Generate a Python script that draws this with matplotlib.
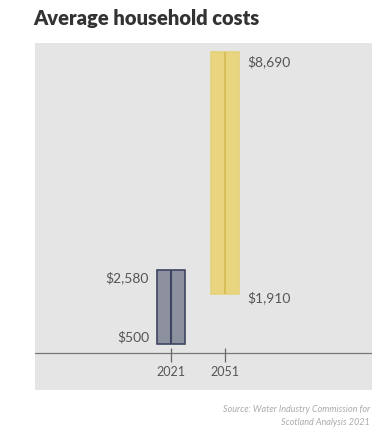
import matplotlib.pyplot as plt

# ==================== 数据 ====================
years = ["2021", "2051"]
low_values = [500, 1910]
high_values = [2580, 8690]
low_labels = ["$500", "$1,910"]
high_labels = ["$2,580", "$8,690"]

title = "Average household costs"
source = "Source: Water Industry Commission for\nScotland Analysis 2021"

# ==================== 样式 ====================
plt.rcParams["font.family"] = ["Lato", "DejaVu Sans"]
fill_colors = ["#8c909f", "#e9d57f"]
edge_colors = ["#3e4560", "#e6d27a"]
mid_colors = ["#3e4560", "#d8bf5c"]
panel_color = "#e5e5e5"
text_color = "#555555"

W, H = 379, 434
fig = plt.figure(figsize=(W / 100, H / 100), dpi=100)
fig.patch.set_facecolor("white")

# 面板（像素位置换算成图形坐标）
left, right, top, bottom = 35, 372, 43, 390
ax = fig.add_axes([left / W, 1 - bottom / H, (right - left) / W, (bottom - top) / H])
ax.set_facecolor(panel_color)
for s in ax.spines.values():
    s.set_visible(False)

x = [0, 1]
bar_w = 0.52
for i in range(len(years)):
    h = high_values[i] - low_values[i]
    ax.bar(x[i], h, bottom=low_values[i], width=bar_w, color=fill_colors[i],
           edgecolor=edge_colors[i], linewidth=1.2, zorder=3)
    ax.vlines(x[i], low_values[i], high_values[i], color=mid_colors[i], lw=1.5, zorder=4)

# 基线和刻度
base = 250
ax.axhline(base, color="#777777", lw=0.9, zorder=2)
for i in range(len(years)):
    ax.vlines(x[i], base - 250, base + 130, color="#666666", lw=0.9, zorder=2)
    ax.text(x[i], base - 370, years[i], ha="center", va="top", fontsize=9, color=text_color)

# 数值标签：2021 放左边，2051 放右边
ax.text(x[0] - bar_w / 2 - 0.15, high_values[0] - 220, high_labels[0], ha="right", va="center",
        fontsize=10, color=text_color)
ax.text(x[0] - bar_w / 2 - 0.15, low_values[0] + 200, low_labels[0], ha="right", va="center",
        fontsize=10, color=text_color)
ax.text(x[1] + bar_w / 2 + 0.15, high_values[1] - 280, high_labels[1], ha="left", va="center",
        fontsize=10, color=text_color)
ax.text(x[1] + bar_w / 2 + 0.15, low_values[1] - 100, low_labels[1], ha="left", va="center",
        fontsize=10, color=text_color)

ax.set_xlim(-2.52, 3.72)
ax.set_ylim(-790, 8942)
ax.set_xticks([])
ax.set_yticks([])

fig.text(33 / W, 1 - 18 / H, title, ha="left", va="center", fontsize=14.5,
         fontweight="heavy", color="#333333")
fig.text(370 / W, 1 - 416 / H, source, ha="right", va="center", fontsize=6.5,
         style="italic", color="#aaaaaa", linespacing=1.6)

fig.savefig("out.png", dpi=100)
